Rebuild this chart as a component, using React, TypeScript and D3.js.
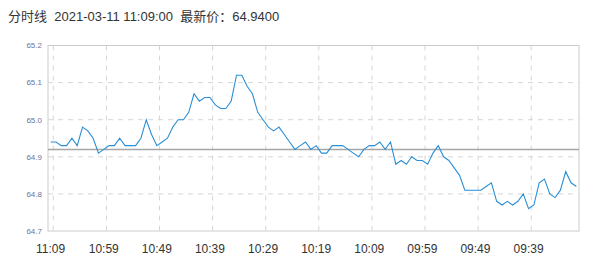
import React from "react";
import * as d3 from "d3";

const startTime = "11:09";
const pointCount = 100;
const prices = [
  64.94, 64.94, 64.93, 64.93, 64.95, 64.93, 64.98, 64.97, 64.95, 64.91,
  64.92, 64.93, 64.93, 64.95, 64.93, 64.93, 64.93, 64.95, 65.0, 64.96,
  64.93, 64.94, 64.95, 64.98, 65.0, 65.0, 65.02, 65.07, 65.05, 65.06,
  65.06, 65.04, 65.03, 65.03, 65.05, 65.12, 65.12, 65.09, 65.07, 65.02,
  65.0, 64.98, 64.97, 64.98, 64.96, 64.94, 64.92, 64.93, 64.94, 64.92,
  64.93, 64.91, 64.91, 64.93, 64.93, 64.93, 64.92, 64.91, 64.9, 64.92,
  64.93, 64.93, 64.94, 64.92, 64.94, 64.88, 64.89, 64.88, 64.9, 64.89,
  64.89, 64.88, 64.91, 64.93, 64.9, 64.89, 64.87, 64.85, 64.81, 64.81,
  64.81, 64.81, 64.82, 64.83, 64.78, 64.77, 64.78, 64.77, 64.78, 64.8,
  64.76, 64.77, 64.83, 64.84, 64.8, 64.79, 64.81, 64.86, 64.83, 64.82,
];
const refPrice = 64.92;
const yTicks = [64.7, 64.8, 64.9, 65.0, 65.1, 65.2];
const xTickLabels = ["11:09", "10:59", "10:49", "10:39", "10:29", "10:19", "10:09", "09:59", "09:49", "09:39"];
const titleText = "分时线  2021-03-11 11:09:00  最新价：64.9400";

function buildTimes(): string[] {
  const [h, m] = startTime.split(":").map(Number);
  const base = new Date(2021, 2, 11, h, m);
  const fmt = d3.timeFormat("%H:%M");
  const out: string[] = [];
  for (let i = 0; i < pointCount; i++) out.push(fmt(d3.timeMinute.offset(base, -i)));
  return out;
}

export default function App() {
  const W = 593, H = 272;
  const left = 48, right = 579, top = 45.5, bottom = 231;
  const times = buildTimes();
  const x = d3.scaleBand<string>().domain(times).range([left, right]).padding(0);
  const bw = x.bandwidth();
  const cx = (t: string) => (x(t) as number) + bw / 2;
  const y = d3.scaleLinear().domain([64.7, 65.2]).range([bottom, top]);
  const line = d3
    .line<number>()
    .x((_, i) => cx(times[i]))
    .y((d) => y(d));
  const gridXs = xTickLabels.map((t) => {
    const idx = times.indexOf(t);
    return (x(times[idx + 1]) as number);
  });
  const font = "Arial, 'Liberation Sans', 'Noto Sans CJK SC', sans-serif";
  return (
    <svg width={W} height={H} style={{ position: "absolute", left: 0, top: 0, background: "#fff" }}>
      <text x={8} y={21} fontSize={13} fill="#333" fontFamily={font} style={{ whiteSpace: "pre" }}>
        {titleText}
      </text>
      {yTicks.slice(1, -1).map((v) => (
        <line key={"h" + v} x1={left} x2={right} y1={y(v)} y2={y(v)} stroke="#d6d6d6" strokeDasharray="5,5" />
      ))}
      {gridXs.map((gx, i) => (
        <line key={"v" + i} x1={gx} x2={gx} y1={top} y2={bottom} stroke="#d6d6d6" strokeDasharray="5,5" />
      ))}
      <rect x={left} y={top} width={right - left} height={bottom - top} fill="none" stroke="#cccccc" />
      <line x1={left} x2={right} y1={y(refPrice)} y2={y(refPrice)} stroke="#a6a6a6" strokeWidth={1.5} />
      <path d={line(prices) || ""} fill="none" stroke="#2a8fd6" strokeWidth={1.1} />
      {yTicks.map((v) => (
        <text key={"yl" + v} x={42} y={y(v)} dy="0.35em" textAnchor="end" fontSize={8} fill="#6e7399" fontFamily={font}>
          {v.toFixed(1)}
        </text>
      ))}
      {xTickLabels.map((t) => (
        <text key={"xl" + t} x={cx(t)} y={253} textAnchor="middle" fontSize={12} fill="#333" fontFamily={font}>
          {t}
        </text>
      ))}
    </svg>
  );
}
